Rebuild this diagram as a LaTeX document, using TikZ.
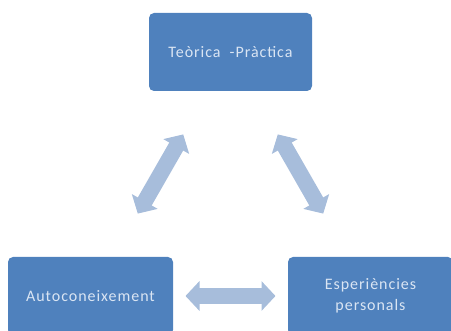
\documentclass[tikz,border=0pt]{standalone}
\usepackage{fontspec}
\setmainfont{Carlito}[LetterSpace=6]
\usetikzlibrary{arrows.meta}
\definecolor{boxBlue}{RGB}{79,129,189}
\definecolor{arrowBlue}{RGB}{167,189,219}
\definecolor{textWhite}{RGB}{218,229,243}

\begin{document}
\begin{tikzpicture}[x=1pt, y=-1pt,
        topicbox/.style={fill=boxBlue, draw=none, rounded corners=5pt,
            minimum width=165pt, minimum height=78pt, align=center,
            text=textWhite, font=\fontsize{16}{21}\selectfont},
        bigarrow/.style={draw=arrowBlue, line width=16pt, line cap=butt,
            {Triangle[width=29pt,length=14pt]}-{Triangle[width=29pt,length=14pt]},
            shorten <=95pt, shorten >=95pt}]

        \useasboundingbox (0,0) rectangle (451,331);

        % boxes
        \node[topicbox, minimum width=163pt] (teoria) at (230.5,52) {Teòrica \ -Pràctica};
        \node[topicbox] (auto) at (90.5,296) {Autoconeixement};
        \node[topicbox] (exper) at (370.5,296) {Esperiències\\personals};

        % arrows
        \draw[bigarrow] (auto.center) -- (teoria.center);
        \draw[bigarrow] (teoria.center) -- (exper.center);
        \draw[bigarrow] (auto.center) -- (exper.center);

    \end{tikzpicture}
\end{document}
